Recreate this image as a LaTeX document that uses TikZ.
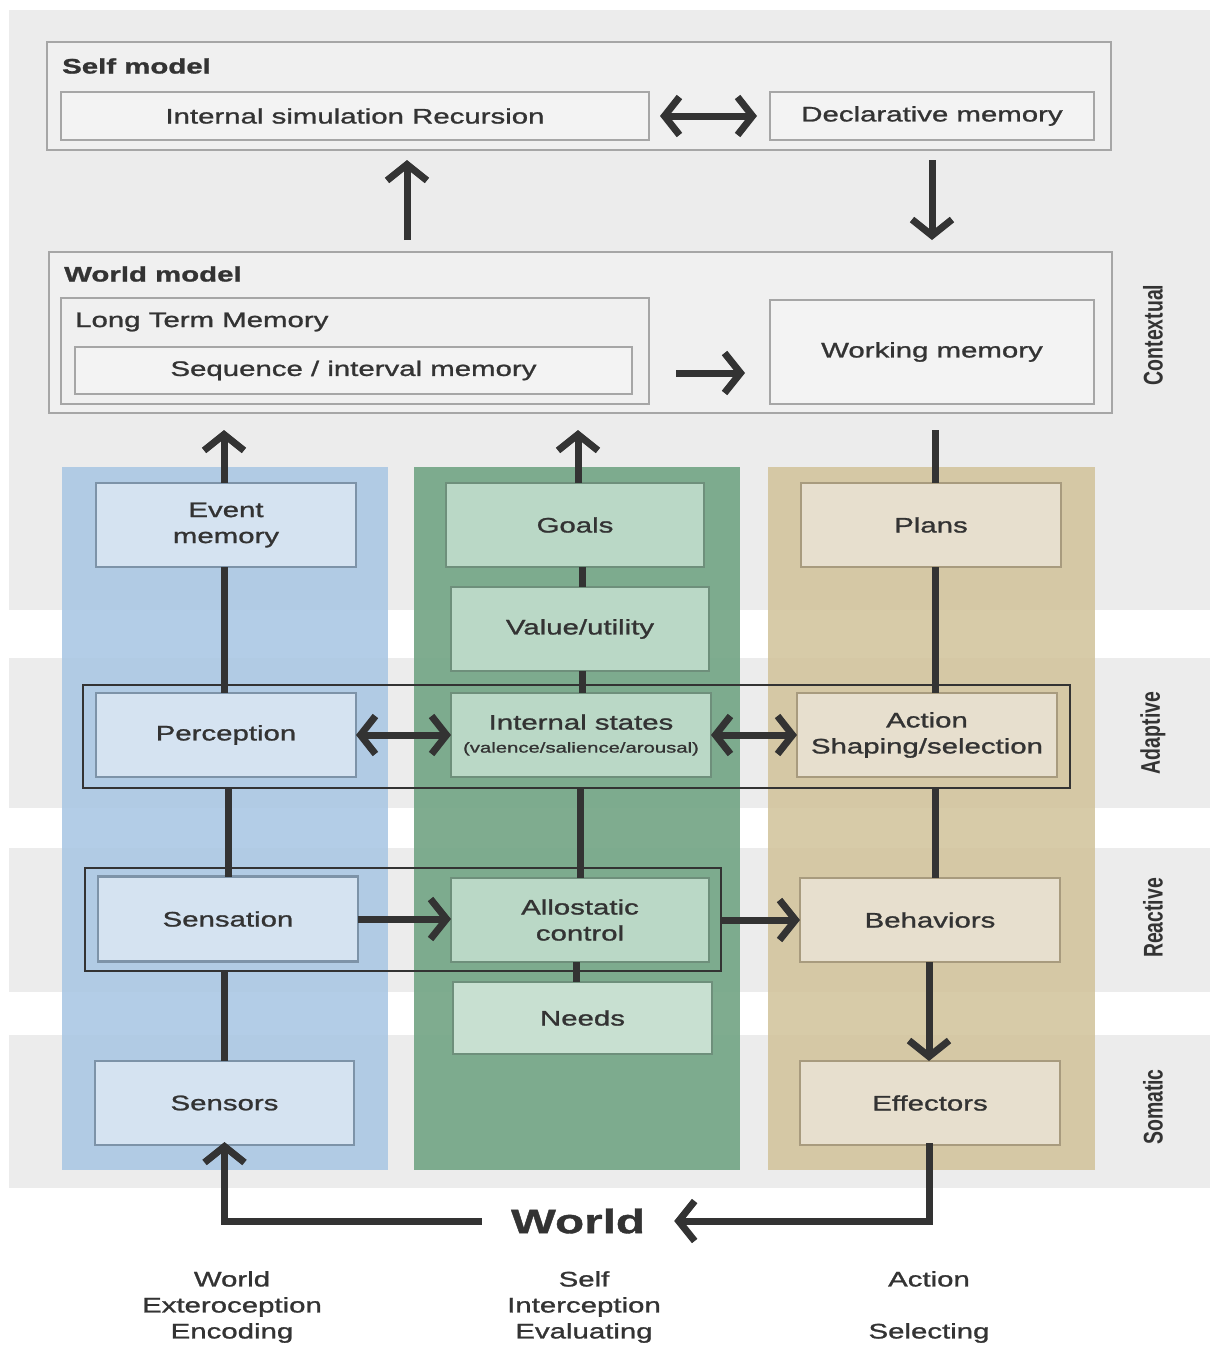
\documentclass[tikz,border=0pt]{standalone}
\usepackage{fontspec}
\setmainfont{Liberation Sans}[FakeStretch=1.4, FakeBold=1.2]
\newfontfamily\narrowfont{Liberation Sans}[FakeStretch=0.72]
\usetikzlibrary{arrows.meta}
\definecolor{dark}{HTML}{333333}
\definecolor{bandgray}{HTML}{ECECEC}
\definecolor{bluecol}{HTML}{ABC8E4}
\definecolor{greencol}{HTML}{78A889}
\definecolor{tancol}{HTML}{D3C59E}
\definecolor{bluebox}{HTML}{D5E3F1}
\definecolor{blueedge}{HTML}{7D93A8}
\definecolor{greenbox}{HTML}{BAD8C6}
\definecolor{greenedge}{HTML}{6E8F7B}
\definecolor{tanbox}{HTML}{E7DFCE}
\definecolor{tanedge}{HTML}{A89B7E}
\definecolor{graybox}{HTML}{F3F3F3}
\definecolor{grayedge}{HTML}{A6A6A6}
\tikzset{
  txt/.style={text=dark, font=\fontsize{21}{26}\selectfont},
  box/.style={txt, line width=2.5, outer sep=0, inner sep=2, align=center},
  gbox/.style={box, fill=graybox, draw=grayedge},
  outerbox/.style={line width=2.5, outer sep=0, inner sep=0, fill=graybox!60!bandgray, draw=grayedge},
  bbox/.style={box, fill=bluebox, draw=blueedge},
  grbox/.style={box, fill=greenbox, draw=greenedge},
  tbox/.style={box, fill=tanbox, draw=tanedge},
  frame/.style={draw=dark, line width=2, outer sep=0, inner sep=0},
  conn/.style={draw=dark, line width=7},
  arr/.style={conn, -{Straight Barb[length=16, width=40, line width=7]}},
  darr/.style={conn, {Straight Barb[length=15, width=38, line width=7]}-{Straight Barb[length=15, width=38, line width=7]}},
  side/.style={text=dark, rotate=90, font=\narrowfont\bfseries\fontsize{27}{30}\selectfont},
  title/.style={txt, font=\bfseries\fontsize{21}{26}\selectfont, anchor=west, inner sep=0},
}
\begin{document}
\begin{tikzpicture}[x=1pt, y=-1pt]
\useasboundingbox (0,0) rectangle (1210,1345);
% bands
\fill[bandgray] (9,10) rectangle (1210,610);
\fill[bandgray] (9,658) rectangle (1210,808);
\fill[bandgray] (9,848) rectangle (1210,992);
\fill[bandgray] (9,1035) rectangle (1210,1188);
% columns
\fill[bluecol, opacity=0.9] (62,467) rectangle (388,1170);
\fill[greencol, opacity=0.95] (414,467) rectangle (740,1170);
\fill[tancol, opacity=0.9] (768,467) rectangle (1095,1170);

% self model
\node[outerbox, minimum width=1064, minimum height=108] (self) at (579,96) {};
\node[title] (selft) at (62,66) {Self model};
\node[gbox, minimum width=588, minimum height=48] (sim) at (355,116) {Internal simulation Recursion};
\node[gbox, minimum width=324, minimum height=48] (decl) at (932,116) {Declarative memory\vphantom{I}};

% world model
\node[outerbox, minimum width=1063, minimum height=161] (wm) at (580.5,332.5) {};
\node[title] (wmt) at (64,274) {World model};
\node[gbox, minimum width=588, minimum height=106, fill=graybox!60!bandgray] (ltm) at (355,351) {};
\node[title] (ltmt) at (75,322) {\mdseries Long Term Memory};
\node[gbox, minimum width=557, minimum height=47] (seq) at (353.5,370.5) {Sequence / interval memory};
\node[gbox, minimum width=324, minimum height=104] (wmem) at (932,352) {Working memory};

% frames
\node[frame, minimum width=987, minimum height=103] (adapt) at (576.5,736.5) {};
\node[frame, minimum width=636, minimum height=103] (react) at (403,919.5) {};

% blue column
\node[bbox, minimum width=260, minimum height=84] (event) at (226,525) {Event\\memory};
\node[bbox, minimum width=260, minimum height=84] (perc) at (226,735) {Perception};
\node[bbox, minimum width=260, minimum height=85] (sens) at (228,919) {Sensation};
\node[bbox, minimum width=259, minimum height=84] (sensors) at (224.5,1103) {Sensors};
% green column
\node[grbox, minimum width=258, minimum height=84] (goals) at (575,525) {Goals};
\node[grbox, minimum width=258, minimum height=84] (value) at (580,629) {Value/utility};
\node[grbox, minimum width=260, minimum height=84] (intst) at (581,735) {Internal states\\[-3pt]{\fontsize{14.5}{18}\selectfont(valence/salience/arousal)}};
\node[grbox, minimum width=258, minimum height=84] (allo) at (580,920) {Allostatic\\control};
\node[grbox, minimum width=259, minimum height=72, fill=greenbox!80!white] (needs) at (582.5,1018) {Needs};
% tan column
\node[tbox, minimum width=260, minimum height=84] (plans) at (931,525) {Plans};
\node[tbox, minimum width=260, minimum height=84] (action) at (927,735) {Action\\Shaping/selection};
\node[tbox, minimum width=260, minimum height=84] (behav) at (930,920) {Behaviors};
\node[tbox, minimum width=260, minimum height=84] (effect) at (930,1103) {Effectors};

% world
\node[txt, font=\bfseries\fontsize{34}{38}\selectfont, inner xsep=29, inner ysep=0] (world) at (578,1221) {World};

% bottom labels
\node[txt, align=center] (lw) at (232,1307) {World\\Exteroception\\Encoding};
\node[txt, align=center] (ls) at (584,1307) {Self\\Interception\\Evaluating};
\node[txt, align=center] (la) at (929,1307) {Action\\\mbox{}\\Selecting};

% side labels
\node[side] (ctx) at (1153,335) {Contextual};
\node[side] (adl) at (1153,733) {Adaptive};
\node[side] (rel) at (1153,918) {Reactive};
\node[side] (sol) at (1153,1107) {Somatic};

% connectors: self / world model
\draw[darr, shorten <=11, shorten >=13] (sim.east) -- (decl.west);
\draw[arr, shorten <=12, shorten >=10] (407,0 |- wm.north) -- (407,0 |- self.south);
\draw[arr, shorten <=10, shorten >=12] (decl.south |- self.south) -- (decl.south |- wm.north);
\draw[arr, shorten <=27, shorten >=25] (ltm.east |- 0,373) -- (wmem.west |- 0,373);

% up to world model
\draw[arr, shorten >=17] (224,0 |- event.north) -- (224,0 |- wm.south);
\draw[arr, shorten >=17] (578,0 |- goals.north) -- (578,0 |- wm.south);
\draw[conn, shorten >=17] (935,0 |- plans.north) -- (935,0 |- wm.south);

% blue verticals
\draw[conn] (224,0 |- event.south) -- (224,0 |- perc.north);
\draw[conn] (228,0 |- adapt.south) -- (228,0 |- sens.north);
\draw[conn] (224,0 |- react.south) -- (224,0 |- sensors.north);
% green verticals
\draw[conn] (582,0 |- goals.south) -- (582,0 |- value.north);
\draw[conn] (582,0 |- value.south) -- (582,0 |- intst.north);
\draw[conn] (580,0 |- adapt.south) -- (580,0 |- allo.north);
\draw[conn] (576,0 |- allo.south) -- (576,0 |- needs.north);
% tan verticals
\draw[conn] (935,0 |- plans.south) -- (935,0 |- action.north);
\draw[conn] (935,0 |- adapt.south) -- (935,0 |- behav.north);
\draw[arr] (929,0 |- behav.south) -- (929,0 |- effect.north);

% horizontal arrows
\draw[darr] (perc.east) -- (perc.east -| intst.west);
\draw[darr] (intst.east) -- (intst.east -| action.west);
\draw[arr] (sens.east) -- (sens.east -| allo.west);
\draw[arr] (react.east |- allo.east) -- (behav.west);

% world loop
\draw[arr, shorten <=-2] (929,0 |- effect.south) |- (world.east);
\draw[arr, shorten >=-3] (world.west) -| (sensors.south);
\end{tikzpicture}
\end{document}
